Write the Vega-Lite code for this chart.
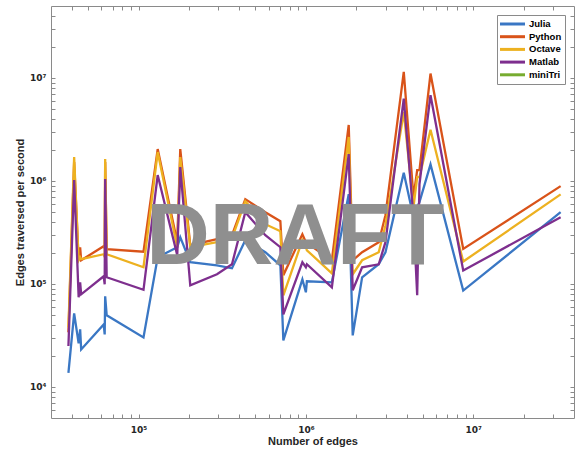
{
  "$schema": "https://vega.github.io/schema/vega-lite/v6.json",
  "width": 523,
  "height": 412,
  "autosize": {"type": "none"},
  "padding": {"left": 51, "top": 6, "right": 6, "bottom": 37},
  "background": "white",
  "config": {"view": {"stroke": null}, "font": "Liberation Sans", "legend": {"labelOffset": 17}},
  "data": {"values": [
    {"edges": 38130, "rate": 13680, "lang": "Julia"},
    {"edges": 41250, "rate": 51900, "lang": "Julia"},
    {"edges": 43880, "rate": 26500, "lang": "Julia"},
    {"edges": 44800, "rate": 36250, "lang": "Julia"},
    {"edges": 45430, "rate": 23160, "lang": "Julia"},
    {"edges": 61940, "rate": 40550, "lang": "Julia"},
    {"edges": 62790, "rate": 32410, "lang": "Julia"},
    {"edges": 63220, "rate": 75930, "lang": "Julia"},
    {"edges": 64540, "rate": 49610, "lang": "Julia"},
    {"edges": 107100, "rate": 30300, "lang": "Julia"},
    {"edges": 130200, "rate": 181800, "lang": "Julia"},
    {"edges": 170400, "rate": 227500, "lang": "Julia"},
    {"edges": 177600, "rate": 284700, "lang": "Julia"},
    {"edges": 203800, "rate": 162600, "lang": "Julia"},
    {"edges": 294300, "rate": 152000, "lang": "Julia"},
    {"edges": 361800, "rate": 142100, "lang": "Julia"},
    {"edges": 434600, "rate": 266200, "lang": "Julia"},
    {"edges": 572500, "rate": 203400, "lang": "Julia"},
    {"edges": 704000, "rate": 152000, "lang": "Julia"},
    {"edges": 733600, "rate": 28340, "lang": "Julia"},
    {"edges": 953000, "rate": 111100, "lang": "Julia"},
    {"edges": 1000000, "rate": 83040, "lang": "Julia"},
    {"edges": 1014000, "rate": 106200, "lang": "Julia"},
    {"edges": 1430000, "rate": 103900, "lang": "Julia"},
    {"edges": 1803000, "rate": 745800, "lang": "Julia"},
    {"edges": 1905000, "rate": 31700, "lang": "Julia"},
    {"edges": 2168000, "rate": 116200, "lang": "Julia"},
    {"edges": 2725000, "rate": 155400, "lang": "Julia"},
    {"edges": 2989000, "rate": 203400, "lang": "Julia"},
    {"edges": 3845000, "rate": 1202000, "lang": "Julia"},
    {"edges": 4395000, "rate": 445500, "lang": "Julia"},
    {"edges": 4625000, "rate": 557300, "lang": "Julia"},
    {"edges": 4773000, "rate": 623200, "lang": "Julia"},
    {"edges": 5555000, "rate": 1450000, "lang": "Julia"},
    {"edges": 8712000, "rate": 86260, "lang": "Julia"},
    {"edges": 33280000, "rate": 498300, "lang": "Julia"},
    {"edges": 38130, "rate": 33910, "lang": "Python"},
    {"edges": 41250, "rate": 1527000, "lang": "Python"},
    {"edges": 43880, "rate": 170000, "lang": "Python"},
    {"edges": 44800, "rate": 227500, "lang": "Python"},
    {"edges": 45430, "rate": 170000, "lang": "Python"},
    {"edges": 61940, "rate": 232700, "lang": "Python"},
    {"edges": 62790, "rate": 222500, "lang": "Python"},
    {"edges": 63220, "rate": 1527000, "lang": "Python"},
    {"edges": 64540, "rate": 217500, "lang": "Python"},
    {"edges": 107100, "rate": 205700, "lang": "Python"},
    {"edges": 130200, "rate": 2043000, "lang": "Python"},
    {"edges": 170400, "rate": 254500, "lang": "Python"},
    {"edges": 177600, "rate": 2043000, "lang": "Python"},
    {"edges": 203800, "rate": 237900, "lang": "Python"},
    {"edges": 294300, "rate": 272100, "lang": "Python"},
    {"edges": 361800, "rate": 297600, "lang": "Python"},
    {"edges": 434600, "rate": 666500, "lang": "Python"},
    {"edges": 572500, "rate": 498300, "lang": "Python"},
    {"edges": 704000, "rate": 407300, "lang": "Python"},
    {"edges": 733600, "rate": 121500, "lang": "Python"},
    {"edges": 953000, "rate": 304400, "lang": "Python"},
    {"edges": 1000000, "rate": 254500, "lang": "Python"},
    {"edges": 1014000, "rate": 248900, "lang": "Python"},
    {"edges": 1430000, "rate": 170000, "lang": "Python"},
    {"edges": 1803000, "rate": 3499000, "lang": "Python"},
    {"edges": 1905000, "rate": 170000, "lang": "Python"},
    {"edges": 2168000, "rate": 203400, "lang": "Python"},
    {"edges": 2725000, "rate": 254500, "lang": "Python"},
    {"edges": 2989000, "rate": 465900, "lang": "Python"},
    {"edges": 3845000, "rate": 11460000, "lang": "Python"},
    {"edges": 4395000, "rate": 697100, "lang": "Python"},
    {"edges": 4625000, "rate": 1276000, "lang": "Python"},
    {"edges": 4773000, "rate": 1276000, "lang": "Python"},
    {"edges": 5555000, "rate": 11040000, "lang": "Python"},
    {"edges": 8712000, "rate": 219000, "lang": "Python"},
    {"edges": 33280000, "rate": 892000, "lang": "Python"},
    {"edges": 38130, "rate": 37910, "lang": "Octave"},
    {"edges": 41250, "rate": 1708000, "lang": "Octave"},
    {"edges": 43880, "rate": 170000, "lang": "Octave"},
    {"edges": 44800, "rate": 181800, "lang": "Octave"},
    {"edges": 45430, "rate": 173900, "lang": "Octave"},
    {"edges": 61940, "rate": 194500, "lang": "Octave"},
    {"edges": 62790, "rate": 181800, "lang": "Octave"},
    {"edges": 63220, "rate": 1633000, "lang": "Octave"},
    {"edges": 64540, "rate": 194500, "lang": "Octave"},
    {"edges": 107100, "rate": 145400, "lang": "Octave"},
    {"edges": 130200, "rate": 1910000, "lang": "Octave"},
    {"edges": 170400, "rate": 227500, "lang": "Octave"},
    {"edges": 177600, "rate": 1708000, "lang": "Octave"},
    {"edges": 203800, "rate": 227500, "lang": "Octave"},
    {"edges": 294300, "rate": 254500, "lang": "Octave"},
    {"edges": 361800, "rate": 278400, "lang": "Octave"},
    {"edges": 434600, "rate": 637400, "lang": "Octave"},
    {"edges": 572500, "rate": 380800, "lang": "Octave"},
    {"edges": 704000, "rate": 325500, "lang": "Octave"},
    {"edges": 733600, "rate": 77650, "lang": "Octave"},
    {"edges": 953000, "rate": 266200, "lang": "Octave"},
    {"edges": 1000000, "rate": 227500, "lang": "Octave"},
    {"edges": 1014000, "rate": 212700, "lang": "Octave"},
    {"edges": 1430000, "rate": 127100, "lang": "Octave"},
    {"edges": 1803000, "rate": 2673000, "lang": "Octave"},
    {"edges": 1905000, "rate": 124300, "lang": "Octave"},
    {"edges": 2168000, "rate": 170000, "lang": "Octave"},
    {"edges": 2725000, "rate": 203400, "lang": "Octave"},
    {"edges": 2989000, "rate": 372400, "lang": "Octave"},
    {"edges": 3845000, "rate": 4680000, "lang": "Octave"},
    {"edges": 4395000, "rate": 557300, "lang": "Octave"},
    {"edges": 4625000, "rate": 1091000, "lang": "Octave"},
    {"edges": 4773000, "rate": 1091000, "lang": "Octave"},
    {"edges": 5555000, "rate": 3148000, "lang": "Octave"},
    {"edges": 8712000, "rate": 165200, "lang": "Octave"},
    {"edges": 33280000, "rate": 740700, "lang": "Octave"},
    {"edges": 38130, "rate": 25050, "lang": "Matlab"},
    {"edges": 41250, "rate": 1020000, "lang": "Matlab"},
    {"edges": 43880, "rate": 74240, "lang": "Matlab"},
    {"edges": 44800, "rate": 103900, "lang": "Matlab"},
    {"edges": 45430, "rate": 79400, "lang": "Matlab"},
    {"edges": 61940, "rate": 118800, "lang": "Matlab"},
    {"edges": 62790, "rate": 99300, "lang": "Matlab"},
    {"edges": 63220, "rate": 1043000, "lang": "Matlab"},
    {"edges": 64540, "rate": 116200, "lang": "Matlab"},
    {"edges": 107100, "rate": 87800, "lang": "Matlab"},
    {"edges": 130200, "rate": 1141000, "lang": "Matlab"},
    {"edges": 170400, "rate": 190200, "lang": "Matlab"},
    {"edges": 177600, "rate": 1365000, "lang": "Matlab"},
    {"edges": 203800, "rate": 97100, "lang": "Matlab"},
    {"edges": 294300, "rate": 124300, "lang": "Matlab"},
    {"edges": 361800, "rate": 155400, "lang": "Matlab"},
    {"edges": 434600, "rate": 498300, "lang": "Matlab"},
    {"edges": 572500, "rate": 297600, "lang": "Matlab"},
    {"edges": 704000, "rate": 227500, "lang": "Matlab"},
    {"edges": 733600, "rate": 50740, "lang": "Matlab"},
    {"edges": 953000, "rate": 162600, "lang": "Matlab"},
    {"edges": 1000000, "rate": 145400, "lang": "Matlab"},
    {"edges": 1014000, "rate": 155400, "lang": "Matlab"},
    {"edges": 1430000, "rate": 92900, "lang": "Matlab"},
    {"edges": 1803000, "rate": 1827000, "lang": "Matlab"},
    {"edges": 1905000, "rate": 86840, "lang": "Matlab"},
    {"edges": 2168000, "rate": 145400, "lang": "Matlab"},
    {"edges": 2725000, "rate": 155400, "lang": "Matlab"},
    {"edges": 2989000, "rate": 254500, "lang": "Matlab"},
    {"edges": 3845000, "rate": 6303000, "lang": "Matlab"},
    {"edges": 4395000, "rate": 445500, "lang": "Matlab"},
    {"edges": 4625000, "rate": 77650, "lang": "Matlab"},
    {"edges": 4773000, "rate": 933000, "lang": "Matlab"},
    {"edges": 5555000, "rate": 6803000, "lang": "Matlab"},
    {"edges": 8712000, "rate": 135000, "lang": "Matlab"},
    {"edges": 33280000, "rate": 445500, "lang": "Matlab"}
  ]},
  "layer": [
    {
      "mark": {"type": "line", "opacity": 0},
      "encoding": {
        "x": {"field": "edges", "type": "quantitative",
          "scale": {"type": "log", "domain": [30000, 40000000], "nice": false},
          "axis": {"orient": "top", "labels": false, "title": null, "grid": false,
            "values": [40000,50000,60000,70000,80000,90000,100000,200000,300000,400000,500000,600000,700000,800000,900000,1000000,2000000,3000000,4000000,5000000,6000000,7000000,8000000,9000000,10000000,20000000,30000000],
            "tickSize": -4, "tickColor": "#8a8a8a", "domainColor": "#8a8a8a", "domainWidth": 1}},
        "y": {"field": "rate", "type": "quantitative",
          "scale": {"type": "log", "domain": [5000, 50000000], "nice": false},
          "axis": {"orient": "right", "labels": false, "title": null, "grid": false,
            "values": [6000,7000,8000,9000,10000,20000,30000,40000,50000,60000,70000,80000,90000,100000,200000,300000,400000,500000,600000,700000,800000,900000,1000000,2000000,3000000,4000000,5000000,6000000,7000000,8000000,9000000,10000000,20000000,30000000,40000000],
            "tickSize": -4, "tickColor": "#8a8a8a", "domainColor": "#8a8a8a", "domainWidth": 1}},
        "detail": {"field": "lang"}
      }
    },
    {
      "mark": {"type": "line", "strokeWidth": 2.3, "strokeJoin": "miter", "strokeMiterLimit": 4},
      "encoding": {
        "x": {"field": "edges", "type": "quantitative",
          "scale": {"type": "log", "domain": [30000, 40000000], "nice": false},
          "axis": {"orient": "bottom", "grid": false,
            "values": [40000,50000,60000,70000,80000,90000,100000,200000,300000,400000,500000,600000,700000,800000,900000,1000000,2000000,3000000,4000000,5000000,6000000,7000000,8000000,9000000,10000000,20000000,30000000],
            "labelExpr": "datum.value == 100000 ? '10⁵' : datum.value == 1000000 ? '10⁶' : datum.value == 10000000 ? '10⁷' : ''",
            "tickSize": -4, "tickColor": "#8a8a8a", "domainColor": "#8a8a8a", "domainWidth": 1,
            "labelFont": "DejaVu Sans", "labelFontWeight": "bold", "labelFontSize": 9, "labelColor": "#262626",
            "labelPadding": 11, "labelOverlap": false, "labelFlush": false,
            "title": "Number of edges", "titleFont": "Liberation Sans", "titleFontWeight": "bold", "titleFontSize": 11, "titleColor": "#262626", "titlePadding": 1}},
        "y": {"field": "rate", "type": "quantitative",
          "scale": {"type": "log", "domain": [5000, 50000000], "nice": false},
          "axis": {"orient": "left", "grid": false,
            "values": [6000,7000,8000,9000,10000,20000,30000,40000,50000,60000,70000,80000,90000,100000,200000,300000,400000,500000,600000,700000,800000,900000,1000000,2000000,3000000,4000000,5000000,6000000,7000000,8000000,9000000,10000000,20000000,30000000,40000000],
            "labelExpr": "datum.value == 10000 ? '10⁴' : datum.value == 100000 ? '10⁵' : datum.value == 1000000 ? '10⁶' : datum.value == 10000000 ? '10⁷' : ''",
            "tickSize": -4, "tickColor": "#8a8a8a", "domainColor": "#8a8a8a", "domainWidth": 1,
            "labelFont": "DejaVu Sans", "labelFontWeight": "bold", "labelFontSize": 9, "labelColor": "#262626",
            "labelPadding": 9, "labelOverlap": false, "labelFlush": false,
            "title": "Edges traversed per second", "titleFont": "Liberation Sans", "titleFontWeight": "bold", "titleFontSize": 11, "titleColor": "#262626", "titlePadding": 4}},
        "color": {"field": "lang", "type": "nominal",
          "scale": {"domain": ["Julia", "Python", "Octave", "Matlab", "miniTri"], "range": ["#3a77c4", "#d95319", "#edb120", "#7e2f8e", "#77ac30"]},
          "legend": {"orient": "none", "legendX": 446, "legendY": 9, "title": null,
            "symbolType": "M-1.33,0H4.22", "symbolSize": 81, "symbolStrokeWidth": 3,
            "labelFont": "Liberation Sans", "labelFontWeight": "bold", "labelFontSize": 9.5, "labelColor": "#000000",
            "rowPadding": 0.7, "padding": 3,
            "strokeColor": "#8a8a8a", "fillColor": "white"}},
        "order": {"field": "edges", "type": "quantitative"}
      }
    },
    {
      "data": {"values": [{"label": "DRAFT"}]},
      "mark": {"type": "text", "font": "Liberation Sans", "fontWeight": "bold", "fontSize": 88, "color": "#8f8f8f", "align": "center", "baseline": "alphabetic"},
      "encoding": {
        "x": {"datum": 865000, "type": "quantitative", "scale": {"type": "log", "domain": [30000, 40000000], "nice": false}, "axis": null},
        "y": {"datum": 156500, "type": "quantitative", "scale": {"type": "log", "domain": [5000, 50000000], "nice": false}, "axis": null},
        "text": {"field": "label"}
      }
    }
  ],
  "resolve": {"axis": {"x": "independent", "y": "independent"}}
}
